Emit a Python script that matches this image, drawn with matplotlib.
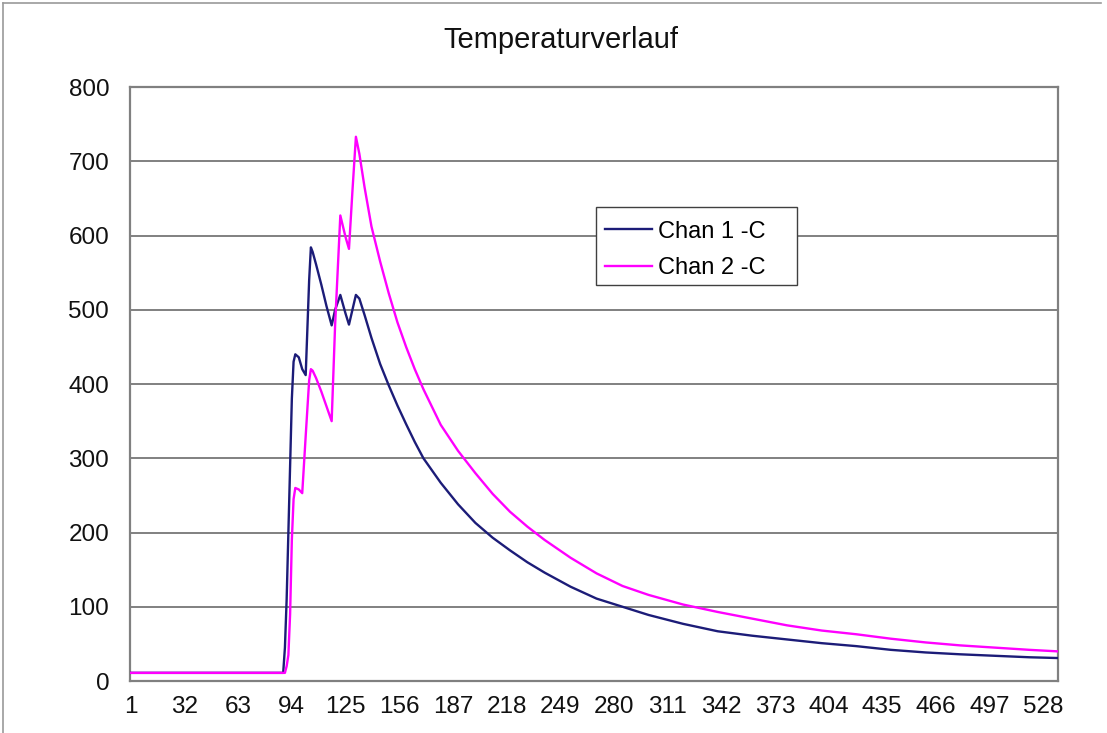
#!/usr/bin/env python3

import matplotlib
import matplotlib.pyplot as plt
from matplotlib.lines import Line2D
from matplotlib.patches import Rectangle

matplotlib.use("Agg")
plt.rcParams["font.family"] = ["Liberation Sans", "DejaVu Sans"]

N_KAT = 536  # Anzahl Messpunkte (Kategorien)

# Stützstellen (Kategorie-Index)
x = [1, 89, 90, 91, 92, 93, 94, 95, 96, 98, 100, 102, 104, 105, 106, 108,
     111, 114, 117, 119, 122, 125, 127, 129, 131, 133, 136, 140, 145, 150,
     155, 160, 165, 170, 180, 190, 200, 210, 220, 230, 240, 255, 270, 285,
     300, 320, 340, 360, 380, 400, 420, 440, 460, 480, 500, 520, 536]

chan1 = [11, 11, 45, 110, 200, 290, 380, 430, 440, 436, 420, 412, 540, 584,
         578, 561, 534, 505, 479, 500, 520, 495, 480, 500, 520, 515, 493,
         462, 427, 398, 371, 346, 322, 300, 267, 238, 213, 193, 176, 160,
         146, 127, 111, 100, 89, 77, 67, 61, 56, 51, 47, 42, 38.5, 36, 34,
         32, 31]

chan2 = [11, 11, 11, 20, 35, 90, 190, 245, 260, 258, 253, 330, 405, 420,
         418, 408, 390, 370, 350, 480, 627, 598, 582, 660, 733, 710, 665,
         612, 565, 522, 483, 450, 420, 393, 345, 310, 280, 252, 228, 208,
         190, 166, 145, 128, 116, 103, 93, 84, 75, 68, 63, 57, 52, 48, 45,
         42, 40]

xticks = list(range(1, 529, 31))
yticks = list(range(0, 801, 100))

fig = plt.figure(figsize=(11.07, 7.33), dpi=100)
ax = fig.add_axes([0.1174, 0.0709, 0.8383, 0.8104])

# Rahmen des Diagrammbereichs (oben und links sichtbar)
fig.add_artist(Line2D([0.003, 0.995], [0.996, 0.996], color="#9a9a9a",
                      lw=1.2, transform=fig.transFigure))
fig.add_artist(Line2D([0.003, 0.003], [0.0, 0.996], color="#9a9a9a",
                      lw=1.2, transform=fig.transFigure))

ax.plot(x, chan1, color="#1c1c78", lw=1.7, label="Chan 1 -C", zorder=3)
ax.plot(x, chan2, color="#ff00ff", lw=1.7, label="Chan 2 -C", zorder=3)

ax.set_xlim(0.5, N_KAT + 0.5)
ax.set_ylim(0, 800)
ax.set_xticks(xticks)
ax.set_yticks(yticks)
ax.tick_params(axis="both", length=0, labelsize=17.5, colors="#111111")
ax.tick_params(axis="y", pad=15)
ax.tick_params(axis="x", pad=11)

ax.grid(axis="y", color="#808080", lw=1.4)
ax.set_axisbelow(True)
for sp in ax.spines.values():
    sp.set_color("#808080")
    sp.set_linewidth(1.6)

fig.text(0.507, 0.945, "Temperaturverlauf", ha="center", va="center",
         fontsize=21, color="#111111")

# Legendenrahmen wie in Excel (etwas breiter als der Inhalt)
ax.add_patch(Rectangle((0.502, 0.6667), 0.2168, 0.1313, transform=ax.transAxes,
                       facecolor="white", edgecolor="#404040", lw=1.0,
                       zorder=4))
leg = ax.legend(loc="upper left", bbox_to_anchor=(0.502, 0.791),
                fontsize=17, frameon=False, borderpad=0.4, handlelength=2.0,
                handletextpad=0.25, labelspacing=0.62, borderaxespad=0)
leg.set_zorder(5)

plt.savefig("out.png", dpi=100)
